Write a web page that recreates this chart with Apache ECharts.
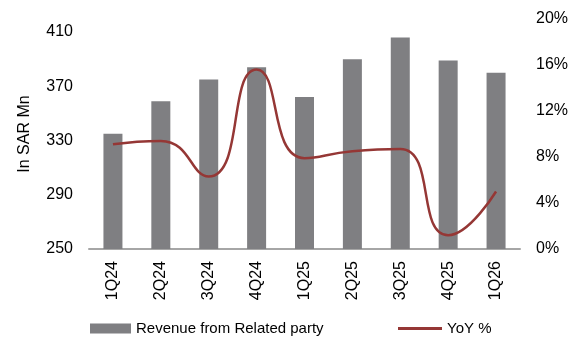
<!DOCTYPE html>
<html>
<head>
<meta charset="utf-8">
<script src="https://cdn.jsdelivr.net/npm/echarts@6/dist/echarts.min.js"></script>
<style>html,body{margin:0;padding:0;background:#fff;}#c{width:582px;height:341px;}</style>
</head>
<body>
<div id="c"></div>
<script>
const categories = ['1Q24','2Q24','3Q24','4Q24','1Q25','2Q25','3Q25','4Q25','1Q26'];
const revenue = [335, 359, 375, 384, 362, 390, 406, 389, 380];
const yoy = [9.1, 9.4, 6.3, 15.6, 7.9, 8.5, 8.7, 1.2, 5.0];
const leftTicks = [250, 290, 330, 370, 410];
const rightTicks = [0, 4, 8, 12, 16, 20];

const FONT = '"Liberation Sans", Arial, sans-serif';
const chart = echarts.init(document.getElementById('c'), null, {renderer: 'canvas'});
chart.setOption({
  animation: false,
  backgroundColor: '#fff',
  grid: {left: 89, right: 62, top: 19, bottom: 92},
  legend: [
    {data: [{name: 'Revenue from Related party', icon: 'rect'}], left: 90, top: 321, padding: 0, itemWidth: 41, itemHeight: 10,
     textStyle: {fontFamily: FONT, fontSize: 15, color: '#000'}},
    {data: [{name: 'YoY %', icon: 'rect'}], left: 398, top: 321, padding: 0, itemWidth: 44, itemHeight: 3,
     textStyle: {fontFamily: FONT, fontSize: 15, color: '#000'}}
  ],
  xAxis: {
    type: 'category', data: categories,
    axisLine: {lineStyle: {color: '#a6a6a6', width: 2}},
    axisTick: {show: false},
    axisLabel: {rotate: 90, margin: 12, fontFamily: FONT, fontSize: 16, color: '#000'}
  },
  yAxis: [
    {type: 'value', min: leftTicks[0], max: 250 + 230 / 54.25 * 40, interval: 40,
     name: 'In SAR Mn', nameLocation: 'middle', nameGap: 56,
     nameTextStyle: {fontFamily: FONT, fontSize: 16, color: '#000'},
     axisLine: {show: false}, axisTick: {show: false}, splitLine: {show: false},
     axisLabel: {margin: 16, fontFamily: FONT, fontSize: 16, color: '#000', showMaxLabel: false,
       formatter: v => leftTicks.includes(Math.round(v)) ? String(Math.round(v)) : ''}},
    {type: 'value', min: rightTicks[0], max: rightTicks[rightTicks.length - 1], interval: 4,
     axisLine: {show: false}, axisTick: {show: false}, splitLine: {show: false},
     axisLabel: {margin: 16, fontFamily: FONT, fontSize: 16, color: '#000', formatter: v => v + '%'}}
  ],
  series: [
    {name: 'Revenue from Related party', type: 'bar', data: revenue, barWidth: 19,
     itemStyle: {color: '#7f7f82'}},
    {name: 'YoY %', type: 'line', yAxisIndex: 1, data: yoy, smooth: 0.55, symbol: 'none',
     lineStyle: {color: '#953735', width: 2.5}, itemStyle: {color: '#953735'}}
  ]
});
</script>
</body>
</html>
